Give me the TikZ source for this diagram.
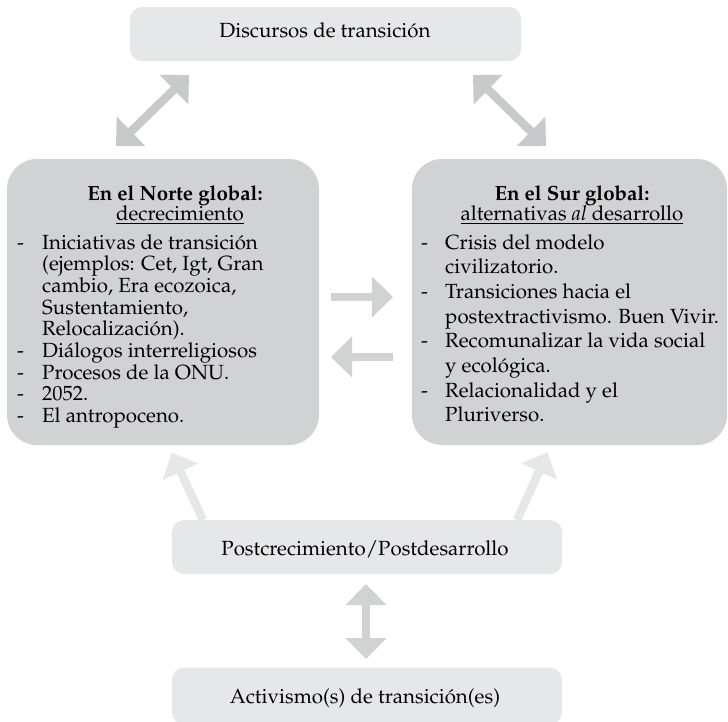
\documentclass[tikz,border=0pt]{standalone}
\usepackage[T1]{fontenc}
\usepackage{mathpazo}
\usetikzlibrary{arrows.meta}
\definecolor{bigfill}{HTML}{D1D2D4}
\definecolor{smallfill}{HTML}{E6E7E8}
\definecolor{arrdark}{HTML}{C8C9CB}
\definecolor{arrmid}{HTML}{D1D2D4}
\definecolor{arrlight}{HTML}{E6E7E8}
\newcommand{\txtfont}{\fontsize{20.5}{21.7}\selectfont}
\tikzset{
  bigbox/.style={fill=bigfill, rounded corners=30pt, inner sep=0pt},
  smallbox/.style={fill=smallfill, rounded corners=12pt, inner sep=0pt},
  label text/.style={anchor=base, inner sep=0pt, font=\txtfont},
  listtext/.style={anchor=base west, inner sep=0pt},
  tip/.tip={Triangle[width=40pt,length=21pt]},
  blockarrow/.style={line width=8.5pt},
}
\begin{document}
\begin{tikzpicture}[x=1pt,y=-1pt]
\useasboundingbox (0,0) rectangle (728,721);
% boxes
\node[smallbox, minimum width=391pt, minimum height=54pt] (top) at (325.5,34) {};
\node[bigbox, minimum width=312pt, minimum height=286pt] (north) at (163,302) {};
\node[bigbox, minimum width=315pt, minimum height=286pt] (south) at (569.5,302) {};
\node[smallbox, minimum width=390pt, minimum height=54pt] (post) at (367,547) {};
\node[smallbox, minimum width=390pt, minimum height=57pt] (activ) at (367,696) {};
% texts of small boxes
\node[label text] (toptext) at (325,37) {Discursos de transici\'on};
\node[label text] (posttext) at (365,555) {Postcrecimiento/Postdesarrollo};
\node[label text] (activtext) at (365,703) {Activismo(s) de transici\'on(es)};
% titles
\node[label text] (ntitle) at (175,200) {\bfseries En el Norte global:};
\node[label text] (nsub) at (180,220) {\underline{decrecimiento}};
\node[label text] (stitle) at (572,200) {\bfseries En el Sur global:};
\node[label text] (ssub) at (572,220) {\underline{alternativas \textit{al} desarrollo}};
% lists
\node[listtext] (nlist) at (17,249) {\parbox[t]{300pt}{\fontsize{20.5}{21.7}\selectfont\raggedright
\makebox[25pt][l]{-}Iniciativas de transici\'on\\
\hspace*{25pt}(ejemplos: Cet, Igt, Gran\\
\hspace*{25pt}cambio, Era ecozoica,\\
\hspace*{25pt}Sustentamiento,\\
\hspace*{25pt}Relocalizaci\'on).\\
\makebox[25pt][l]{-}Di\'alogos interreligiosos\\
\makebox[25pt][l]{-}Procesos de la ONU.\\
\makebox[25pt][l]{-}2052.\\
\makebox[25pt][l]{-}El antropoceno.}};
\node[listtext] (slist) at (421,249) {\parbox[t]{305pt}{\fontsize{20.5}{24.7}\selectfont\raggedright
\makebox[24pt][l]{-}Crisis del modelo\\
\hspace*{24pt}civilizatorio.\\
\makebox[24pt][l]{-}Transiciones hacia el\\
\hspace*{24pt}postextractivismo. Buen Vivir.\\
\makebox[24pt][l]{-}Recomunalizar la vida social\\
\hspace*{24pt}y ecol\'ogica.\\
\makebox[24pt][l]{-}Relacionalidad y el\\
\hspace*{24pt}Pluriverso.}};
% arrow end points
\coordinate (tl1) at (116,146);
\coordinate (tl2) at (189,75);
\coordinate (tr1) at (473,75);
\coordinate (tr2) at (546,146);
\coordinate (hr1) at (331,297);
\coordinate (hr2) at (393,297);
\coordinate (hl1) at (393,357);
\coordinate (hl2) at (331,357);
\coordinate (v1) at (366,584);
\coordinate (v2) at (366,659);
\coordinate (pl1) at (203,520);
\coordinate (pl2) at (171.7,452.7);
\coordinate (pr1) at (517,520);
\coordinate (pr2) at (547.7,452.3);
% arrows
\draw[blockarrow, arrdark, {tip}-{tip}] (tl1) -- (tl2);
\draw[blockarrow, arrdark, {tip}-{tip}] (tr1) -- (tr2);
\draw[blockarrow, arrmid, -{tip}] (hr1) -- (hr2);
\draw[blockarrow, arrmid, -{tip}] (hl1) -- (hl2);
\draw[blockarrow, arrmid, {tip}-{tip}] (v1) -- (v2);
\draw[blockarrow, arrlight, -{Triangle[width=38pt,length=21pt]}] (pl1) -- (pl2);
\draw[blockarrow, arrlight, -{Triangle[width=38pt,length=21pt]}] (pr1) -- (pr2);
\end{tikzpicture}
\end{document}
